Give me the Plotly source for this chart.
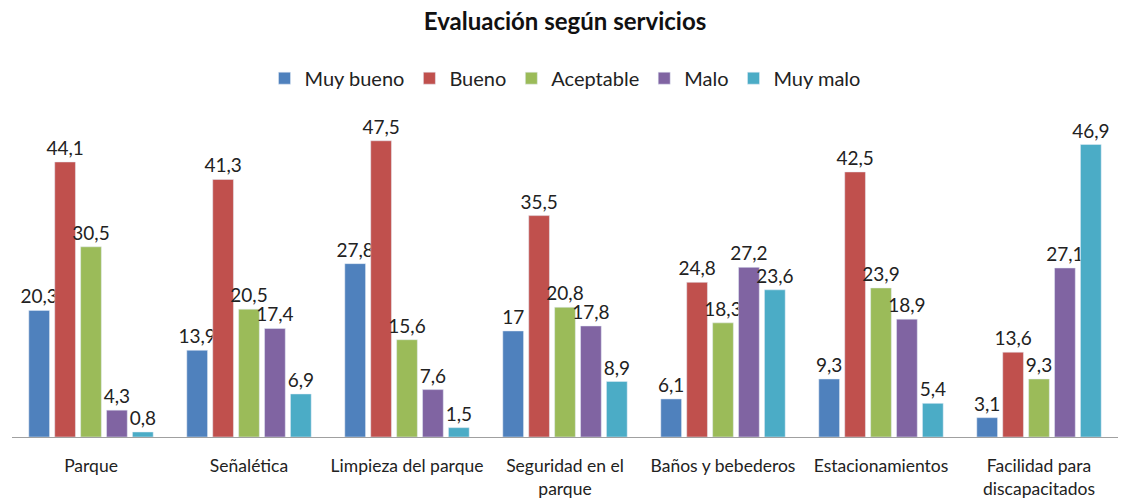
import plotly.graph_objects as go

CATEGORIES = [
    "Parque",
    "Señalética",
    "Limpieza del parque",
    "Seguridad en el<br>parque",
    "Baños y bebederos",
    "Estacionamientos",
    "Facilidad para<br>discapacitados",
]

MUY_BUENO = [20.3, 13.9, 27.8, 17, 6.1, 9.3, 3.1]
BUENO = [44.1, 41.3, 47.5, 35.5, 24.8, 42.5, 13.6]
ACEPTABLE = [30.5, 20.5, 15.6, 20.8, 18.3, 23.9, 9.3]
MALO = [4.3, 17.4, 7.6, 17.8, 27.2, 18.9, 27.1]
MUY_MALO = [0.8, 6.9, 1.5, 8.9, 23.6, 5.4, 46.9]

SERIES = [
    ("Muy bueno", MUY_BUENO, "#4F81BD"),
    ("Bueno", BUENO, "#C0504D"),
    ("Aceptable", ACEPTABLE, "#9BBB59"),
    ("Malo", MALO, "#8064A2"),
    ("Muy malo", MUY_MALO, "#4BACC6"),
]

FONT = "Lato, 'Open Sans', sans-serif"


def label(v):
    # Spanish decimal comma, integers shown without decimals
    return (f"{v:g}").replace(".", ",")


fig = go.Figure()
for name, values, color in SERIES:
    fig.add_bar(
        x=CATEGORIES,
        y=values,
        name=name,
        marker_color=color,
        text=[label(v) for v in values],
        textposition="outside",
        constraintext="none",
        textfont=dict(size=19, color="#222222"),
        cliponaxis=False,
    )

fig.update_layout(
    width=1122,
    height=498,
    paper_bgcolor="white",
    plot_bgcolor="white",
    font=dict(family=FONT, color="#222222"),
    title=dict(
        text="<b>Evaluación según servicios</b>",
        x=0.5,
        xanchor="center",
        xref="paper",
        y=0.956,
        yref="container",
        yanchor="middle",
        font=dict(size=24, color="#111111"),
    ),
    legend=dict(
        orientation="h",
        x=0.5,
        xanchor="center",
        y=0.843,
        yref="container",
        yanchor="middle",
        font=dict(size=20),
        traceorder="normal",
    ),
    margin=dict(l=12, r=4, t=94, b=61, autoexpand=False),
    barmode="group",
    bargap=0.18,
    bargroupgap=0.2,
    xaxis=dict(
        showline=True,
        linecolor="#A0A0A0",
        linewidth=1,
        ticks="",
        ticklabelstandoff=13,
        tickfont=dict(size=17.5),
        automargin=False,
    ),
    yaxis=dict(
        range=[0, 55],
        visible=False,
        showgrid=False,
        automargin=False,
    ),
)

# the page's default body margin would shift the whole figure by 8px
fig.write_html(
    "out.html",
    config={"displayModeBar": False},
    post_script="document.body.style.margin = '0';",
)
